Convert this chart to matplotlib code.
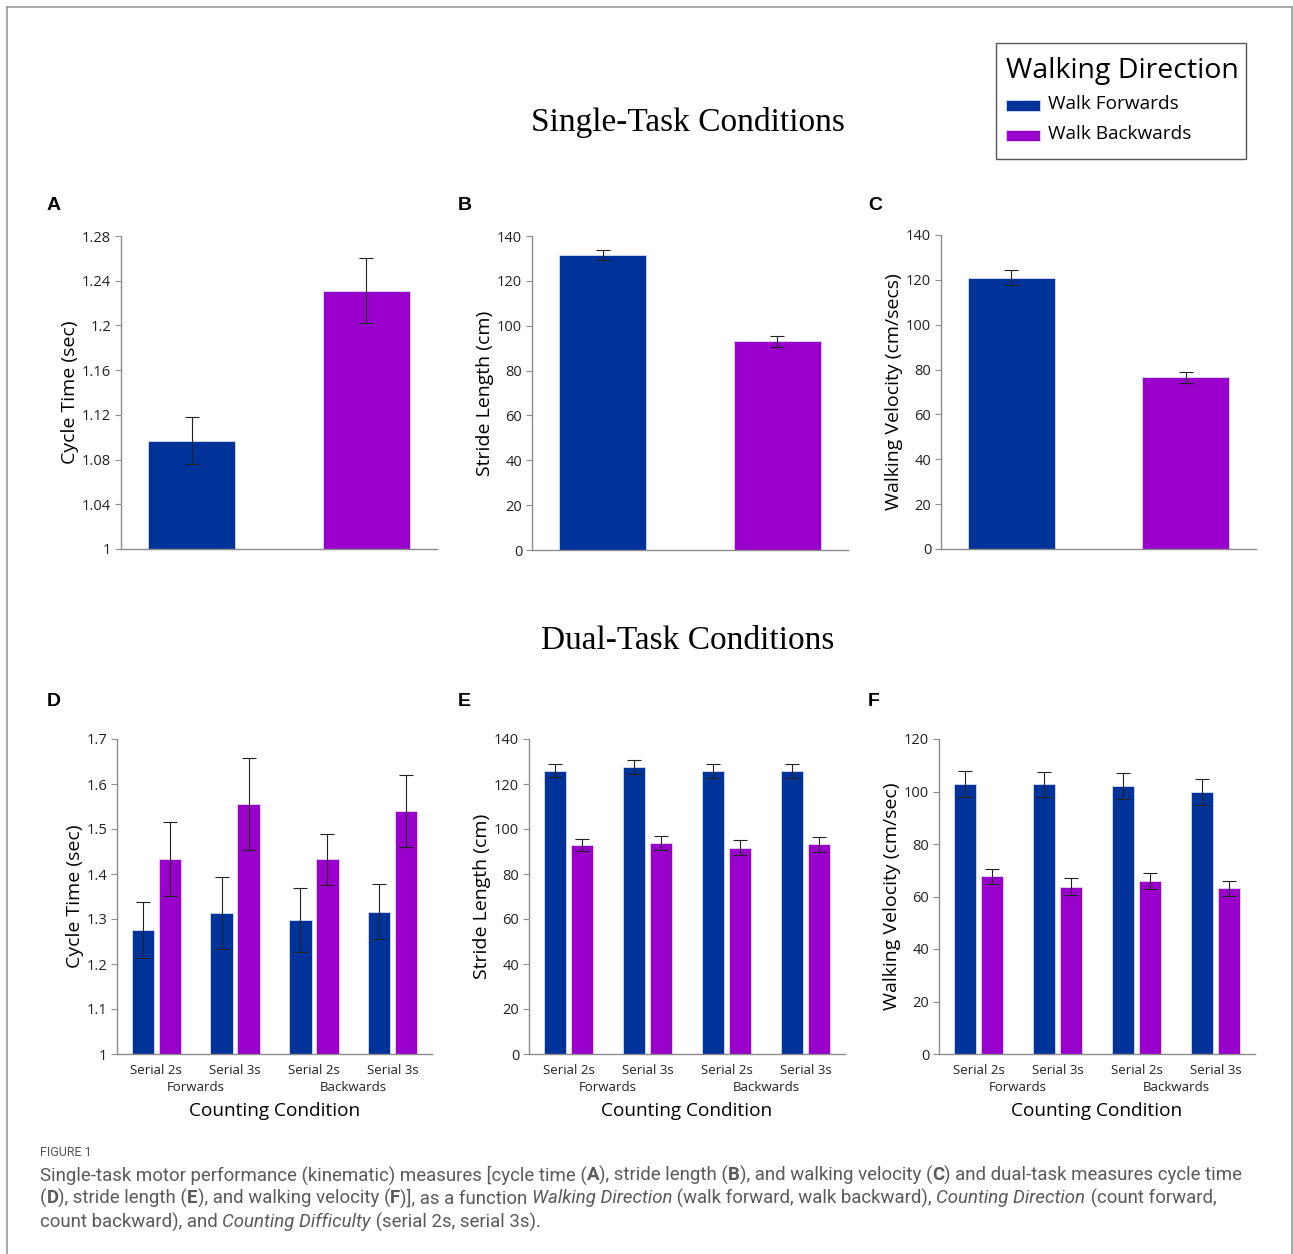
import numpy as np
import matplotlib.pyplot as plt
from matplotlib.patches import Rectangle
from matplotlib.lines import Line2D
from matplotlib.ticker import FuncFormatter

# ---------------- data ----------------
walk_dirs = ['Walk Forwards', 'Walk Backwards']
serial_labels = ['Serial 2s', 'Serial 3s', 'Serial 2s', 'Serial 3s']
count_dirs = ['Forwards', 'Backwards']

# single task (forwards, backwards)
st_cycle = [1.097, 1.231]
st_cycle_err = [0.021, 0.029]
st_stride = [131.5, 93.0]
st_stride_err = [2.3, 2.3]
st_vel = [121.0, 76.5]
st_vel_err = [3.5, 2.5]

# dual task, 4 counting conditions
dt_cycle_fw = [1.276, 1.314, 1.298, 1.316]
dt_cycle_fw_err = [0.062, 0.080, 0.072, 0.061]
dt_cycle_bw = [1.433, 1.556, 1.433, 1.539]
dt_cycle_bw_err = [0.082, 0.102, 0.057, 0.080]

dt_stride_fw = [125.9, 127.6, 125.8, 125.6]
dt_stride_fw_err = [3.0, 3.1, 3.1, 3.1]
dt_stride_bw = [93.0, 93.8, 91.7, 93.2]
dt_stride_bw_err = [2.7, 3.1, 3.2, 3.2]

dt_vel_fw = [102.9, 102.8, 102.0, 99.8]
dt_vel_fw_err = [5.0, 4.8, 4.9, 5.0]
dt_vel_bw = [67.7, 63.8, 65.9, 63.1]
dt_vel_bw_err = [2.9, 3.1, 3.2, 2.9]

BLUE = '#003399'
PURPLE = '#9900cc'
GRAY = '#8c8c8c'
SANS = ['Open Sans', 'DejaVu Sans']

W, H = 1293, 1254
fig = plt.figure(figsize=(W / 100, H / 100), dpi=100)


def px_axes(l, t, r, b):
    return fig.add_axes([l / W, 1 - b / H, (r - l) / W, (b - t) / H])


def style(ax, ylim, yticks, ylabel):
    ax.set_ylim(*ylim)
    ax.set_yticks(yticks)
    ax.yaxis.set_major_formatter(FuncFormatter(lambda v, p: '%g' % round(v, 3)))
    for s in ['top', 'right']:
        ax.spines[s].set_visible(False)
    for s in ['left', 'bottom']:
        ax.spines[s].set_color(GRAY)
        ax.spines[s].set_linewidth(1.0)
    ax.tick_params(axis='y', direction='out', length=4, width=0.8, color=GRAY,
                   labelsize=10.5, labelcolor='#222222', pad=3)
    ax.tick_params(axis='x', length=0)
    for lab in ax.get_yticklabels():
        lab.set_family(SANS)
    ax.set_ylabel(ylabel, fontsize=14, family=SANS, labelpad=2)


ekw = dict(ecolor='#222222', elinewidth=0.8, capsize=5, capthick=0.8)


def single(ax, vals, errs, ylim, yticks, ylabel):
    x = np.arange(2)
    ax.bar(x, vals, width=0.5, color=[BLUE, PURPLE], edgecolor='#d8dcf0',
           linewidth=0.6, yerr=errs, error_kw=ekw, zorder=2)
    ax.set_xlim(-0.405, 1.405)
    ax.set_xticks([])
    style(ax, ylim, yticks, ylabel)


def dual(ax, fw, fwe, bw, bwe, ylim, yticks, ylabel):
    x = np.arange(4)
    w = 0.286
    ax.bar(x - 0.17, fw, width=w, color=BLUE, edgecolor='#d8dcf0', linewidth=0.6,
           yerr=fwe, error_kw=ekw, zorder=2)
    ax.bar(x + 0.17, bw, width=w, color=PURPLE, edgecolor='#e8d8f0', linewidth=0.6,
           yerr=bwe, error_kw=ekw, zorder=2)
    ax.set_xlim(-0.5, 3.5)
    ax.set_xticks(x)
    ax.set_xticklabels(serial_labels, fontsize=9.5, family=SANS, color='#222222')
    ax.tick_params(axis='x', pad=7)
    style(ax, ylim, yticks, ylabel)
    for i, name in enumerate(count_dirs):
        ax.annotate(name, xy=(0.5 + 2 * i, 0), xycoords=('data', 'axes fraction'),
                    xytext=(0, -26.5), textcoords='offset points', ha='center',
                    va='baseline', fontsize=9.5, family=SANS, color='#222222')
    ax.annotate('Counting Condition', xy=(0.5, 0), xycoords='axes fraction',
                xytext=(0, -44.5), textcoords='offset points', ha='center',
                va='baseline', fontsize=13.7, family=SANS)


axA = px_axes(121, 236, 437, 549)
single(axA, st_cycle, st_cycle_err, (1, 1.28), np.arange(1, 1.281, 0.04), 'Cycle Time (sec)')
axB = px_axes(532, 236, 848, 550)
single(axB, st_stride, st_stride_err, (0, 140), np.arange(0, 141, 20), 'Stride Length (cm)')
axC = px_axes(941, 235, 1256, 549)
single(axC, st_vel, st_vel_err, (0, 140), np.arange(0, 141, 20), 'Walking Velocity (cm/secs)')

axD = px_axes(117, 739, 432, 1054)
dual(axD, dt_cycle_fw, dt_cycle_fw_err, dt_cycle_bw, dt_cycle_bw_err,
     (1, 1.7), np.arange(1, 1.71, 0.1), 'Cycle Time (sec)')
axE = px_axes(529, 739, 845, 1054)
dual(axE, dt_stride_fw, dt_stride_fw_err, dt_stride_bw, dt_stride_bw_err,
     (0, 140), np.arange(0, 141, 20), 'Stride Length (cm)')
axF = px_axes(939, 739, 1255, 1054)
dual(axF, dt_vel_fw, dt_vel_fw_err, dt_vel_bw, dt_vel_bw_err,
     (0, 120), np.arange(0, 121, 20), 'Walking Velocity (cm/sec)')

# panel letters
for letter, (x, y) in zip('ABCDEF', [(47, 205), (458, 205), (868, 205),
                                     (47, 701), (458, 701), (868, 701)]):
    fig.text(x / W, 1 - y / H, letter, fontsize=14, fontweight='bold',
             family=['Liberation Sans', 'DejaVu Sans'], va='center', ha='left')

# section titles
fig.text(688 / W, 1 - 123 / H, 'Single-Task Conditions', fontsize=24,
         family=['Liberation Serif', 'DejaVu Serif'], ha='center', va='center')
fig.text(688 / W, 1 - 641 / H, 'Dual-Task Conditions', fontsize=24,
         family=['Liberation Serif', 'DejaVu Serif'], ha='center', va='center')

# legend box (drawn by hand to match the layout)
fig.add_artist(Rectangle((996 / W, 1 - 159 / H), 250 / W, 116 / H, transform=fig.transFigure,
                         facecolor='white', edgecolor='#555555', lw=1.0))
fig.text(1006 / W, 1 - 71 / H, 'Walking Direction', fontsize=20.5, family=SANS,
         va='center', ha='left')
for name, col, y in zip(walk_dirs, [BLUE, PURPLE], [104, 134]):
    fig.add_artist(Rectangle((1006 / W, 1 - (y + 7) / H), 34 / W, 11 / H,
                             transform=fig.transFigure, facecolor=col, edgecolor='#d8dcf0', lw=0.6))
    fig.text(1048 / W, 1 - y / H, name, fontsize=13.7, family=SANS, va='center', ha='left')

# outer frame
for xs, ys in [([7, 1292], [7, 7]), ([7, 7], [7, 1254]), ([1292, 1292], [7, 1254])]:
    fig.add_artist(Line2D([x / W for x in xs], [1 - y / H for y in ys], color='#999999', lw=1.2))

# caption
fig.text(40 / W, 1 - 1152 / H, 'FIGURE 1', fontsize=9, color='#555555',
         family=['Roboto', 'DejaVu Sans'], va='center')

CAP = ['Roboto', 'DejaVu Sans']
cap_lines = [
    [('Single-task motor performance (kinematic) measures [cycle time (', 'n'), ('A', 'b'),
     ('), stride length (', 'n'), ('B', 'b'), ('), and walking velocity (', 'n'), ('C', 'b'),
     (') and dual-task measures cycle time', 'n')],
    [('(', 'n'), ('D', 'b'), ('), stride length (', 'n'), ('E', 'b'), ('), and walking velocity (', 'n'),
     ('F', 'b'), (')], as a function ', 'n'), ('Walking Direction', 'i'),
     (' (walk forward, walk backward), ', 'n'), ('Counting Direction', 'i'), (' (count forward,', 'n')],
    [('count backward), and ', 'n'), ('Counting Difficulty', 'i'), (' (serial 2s, serial 3s).', 'n')],
]
renderer = fig.canvas.get_renderer()
for line, yc in zip(cap_lines, [1175, 1198, 1222]):
    x = 40
    for txt, st in line:
        t = fig.text(x / W, 1 - yc / H, txt, fontsize=13.45, color='#5a5a5a', family=CAP,
                     fontweight='bold' if st == 'b' else 'normal',
                     fontstyle='italic' if st == 'i' else 'normal', va='center', ha='left')
        x += t.get_window_extent(renderer).width

fig.savefig('out.png', dpi=100)
